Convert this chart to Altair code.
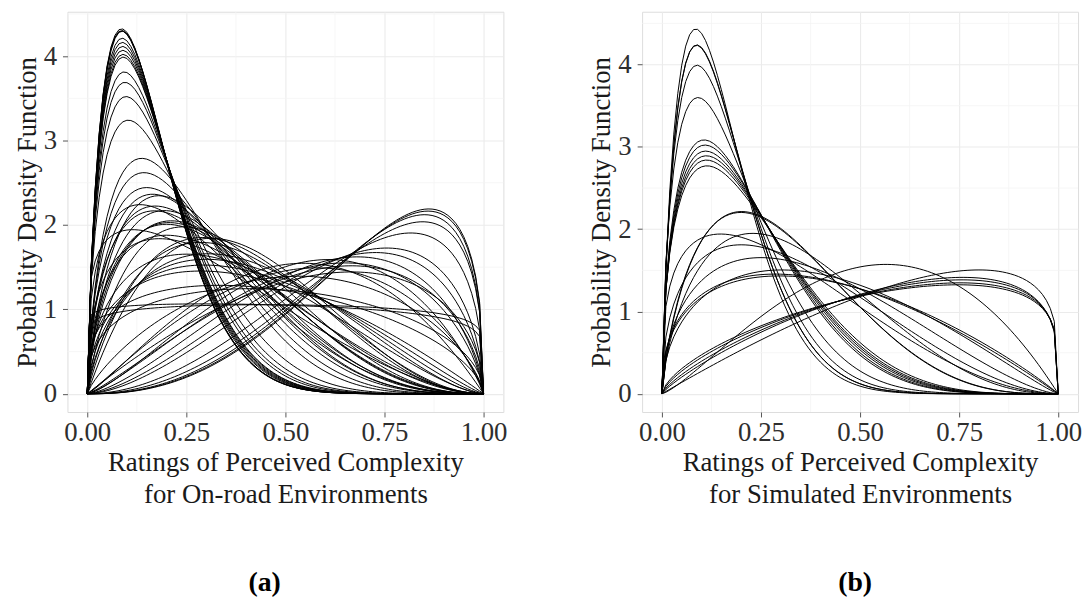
import math
import altair as alt
import pandas as pd

# ---- Beta-distribution parameters (one pair per curve) ----
# (a) On-road environments
alpha_a = [1.80, 1.80, 1.81, 1.79, 1.781, 1.771, 1.762, 1.752, 1.743, 1.737, 1.703, 1.68, 1.65, 1.60,
           1.70, 1.65, 1.40, 1.60, 1.65, 1.75, 1.60, 1.55, 1.70, 1.60, 1.65, 1.70, 1.22, 1.50, 1.80, 1.40,
           1.50, 1.60, 1.40, 1.50, 1.80, 1.70, 1.30, 1.35, 1.90, 2.00,
           1.08, 1.05,
           3.50, 3.45, 3.40, 3.20, 3.00, 2.60, 2.70, 2.50, 2.30, 2.20, 2.00, 2.40, 2.10, 2.20, 1.80]
beta_a = [9.40, 9.45, 9.42, 9.35, 9.10, 8.94, 8.79, 8.64, 8.49, 8.39, 7.85, 7.48, 6.99, 6.20,
          5.40, 4.90, 3.60, 4.40, 4.30, 4.40, 3.90, 3.70, 3.90, 3.40, 3.50, 3.60, 2.70, 3.00, 3.50, 2.80,
          2.50, 2.40, 2.00, 2.20, 3.00, 2.60, 1.60, 1.50, 3.20, 3.20,
          1.10, 1.12,
          1.40, 1.40, 1.42, 1.40, 1.45, 1.60, 1.55, 1.70, 1.70, 1.60, 1.50, 1.90, 1.80, 2.00, 1.70]

# (b) Simulated environments
alpha_b = [1.82, 1.79, 1.78, 1.71, 1.60,
           1.565, 1.56, 1.545, 1.535, 1.52, 1.50,
           1.78, 1.76, 1.70, 1.33, 1.45, 1.50, 1.50, 1.40, 1.40,
           2.30, 2.00, 1.85, 1.78, 1.70, 1.65]
beta_b = [9.80, 9.20, 9.15, 8.30, 7.00,
          5.75, 5.60, 5.40, 5.25, 5.10, 4.90,
          4.10, 4.05, 3.35, 2.90, 2.80, 2.50, 2.15, 2.00, 1.95,
          2.00, 1.25, 1.27, 1.25, 1.23, 1.22]

x_ticks = [0.0, 0.25, 0.5, 0.75, 1.0]
y_ticks = [0, 1, 2, 3, 4]
x_minor = [0.125, 0.375, 0.625, 0.875]
y_minor = [0.5, 1.5, 2.5, 3.5, 4.5]
N_POINTS = 101  # evaluation grid of the density functions

FONT = "Liberation Serif"


def beta_curves(alphas, betas):
    rows = []
    for k, (a, b) in enumerate(zip(alphas, betas)):
        lnB = math.lgamma(a) + math.lgamma(b) - math.lgamma(a + b)
        for i in range(N_POINTS):
            x = i / (N_POINTS - 1)
            if x <= 0 or x >= 1:
                y = 0.0
            else:
                y = math.exp((a - 1) * math.log(x) + (b - 1) * math.log(1 - x) - lnB)
            rows.append({"curve": k, "x": x, "y": y})
    return pd.DataFrame(rows)


def panel(alphas, betas, title_lines, ydom, tag, tag_dx):
    df = beta_curves(alphas, betas)
    xs = alt.Scale(domain=[-0.05, 1.05], nice=False, zero=False)
    ys = alt.Scale(domain=ydom, nice=False, zero=False)

    xgrid = alt.Chart(pd.DataFrame({"v": x_minor})).mark_rule(
        color="#F4F4F4", strokeWidth=0.8).encode(x=alt.X("v:Q", scale=xs))
    ygrid = alt.Chart(pd.DataFrame({"v": y_minor})).mark_rule(
        color="#F4F4F4", strokeWidth=0.8).encode(y=alt.Y("v:Q", scale=ys))

    lines = alt.Chart(df).mark_line(color="black", strokeWidth=1.0).encode(
        x=alt.X("x:Q", scale=xs,
                axis=alt.Axis(values=x_ticks, format=".2f", title=title_lines,
                              grid=True, gridColor="#EBEBEB", gridWidth=1.1,
                              domain=False, tickColor="#555555", tickSize=5,
                              labelPadding=3, labelFontSize=27, labelFont=FONT,
                              labelColor="#2E2E2E", labelFlush=False,
                              titleFont=FONT, titleFontSize=27, titleFontWeight="normal",
                              titleColor="#1A1A1A", titlePadding=4, titleLineHeight=32)),
        y=alt.Y("y:Q", scale=ys,
                axis=alt.Axis(values=y_ticks, format="d", title="Probability Density Function",
                              grid=True, gridColor="#EBEBEB", gridWidth=1.1,
                              domain=False, tickColor="#555555", tickSize=5,
                              labelPadding=6, labelFontSize=27, labelFont=FONT,
                              labelColor="#2E2E2E", labelFlush=False,
                              titleFont=FONT, titleFontSize=27, titleFontWeight="normal",
                              titleColor="#1A1A1A", titlePadding=2)),
        detail="curve:N",
    )
    return alt.layer(xgrid, ygrid, lines).properties(
        width=440, height=404,
        title=alt.TitleParams(tag, orient="bottom", font=FONT, fontSize=28,
                              fontWeight="bold", color="black", offset=63,
                              anchor="middle", frame="group", dx=tag_dx),
    )


pa = panel(alpha_a, beta_a, ["Ratings of Perceived Complexity", "for On-road Environments"],
           [-0.2155, 4.5255], "(a)", -21)
pb = panel(alpha_b, beta_b, ["Ratings of Perceived Complexity", "for Simulated Environments"],
           [-0.221, 4.641], "(b)", -5)

chart = alt.hconcat(pa, pb, spacing=80).properties(
    padding={"left": 5, "top": 0, "right": 0, "bottom": 0}
).configure_view(stroke="#C8C8C8", strokeWidth=1).configure(background="white")

chart.save("out.html", embed_options={"renderer": "svg", "actions": False})
